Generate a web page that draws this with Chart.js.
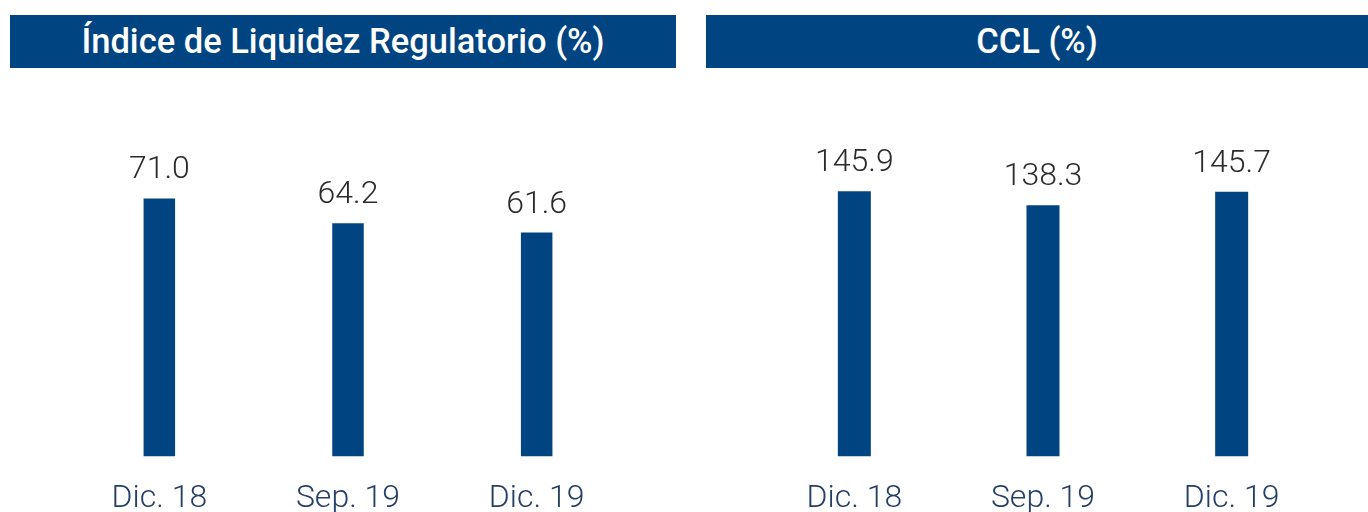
<!DOCTYPE html>
<html>
<head>
<meta charset="utf-8">
<script src="https://cdn.jsdelivr.net/npm/chart.js@4/dist/chart.umd.min.js"></script>
<style>
  html, body { margin: 0; padding: 0; background: #fff; }
  body { width: 1368px; height: 512px; overflow: hidden; position: relative; }
  .header {
    position: absolute; top: 15px; height: 53px; background: #004481; color: #fff;
    font-family: Roboto, sans-serif; font-weight: 500; font-size: 34.5px;
    line-height: 53px; text-align: center;
  }
  .panel { position: absolute; top: 68px; height: 473px; }
</style>
</head>
<body>
<div class="header" style="left:10px;width:666px;">Índice de Liquidez Regulatorio (%)</div>
<div class="header" style="left:706px;width:662px;">CCL (%)</div>
<div class="panel" style="left:10px;width:666px;"><canvas id="chartLiquidez"></canvas></div>
<div class="panel" style="left:706px;width:662px;"><canvas id="chartCcl"></canvas></div>

<script>
(function () {
    'use strict';

    const periodos = ["Dic. 18", "Sep. 19", "Dic. 19"];
    const liquidezValores = [71.0, 64.2, 61.6];
    const cclValores = [145.9, 138.3, 145.7];

    const AZUL = "#004481";

    // Escribe el valor encima de cada barra
    const valorEncima = {
        id: "valorEncima",
        afterDatasetsDraw(chart) {
            const ctx = chart.ctx;
            const meta = chart.getDatasetMeta(0);
            ctx.save();
            ctx.font = "300 32px Roboto";
            ctx.fillStyle = "#2b2b2b";
            ctx.textAlign = "center";
            ctx.textBaseline = "alphabetic";
            meta.data.forEach((bar, i) => {
                const v = chart.data.datasets[0].data[i];
                ctx.fillText(v.toFixed(1), bar.x, bar.y - 20);
            });
            ctx.restore();
        }
    };

    function drawBarChart(id, valores, maxY, barPct, padding) {
        const el = document.getElementById(id);
        return new Chart(el, {
            type: "bar",
            data: {
                labels: periodos,
                datasets: [{
                    data: valores,
                    backgroundColor: AZUL,
                    borderWidth: 0,
                    categoryPercentage: 1,
                    barPercentage: barPct
                }]
            },
            options: {
                responsive: true,
                maintainAspectRatio: false,
                animation: false,
                layout: { padding: padding },
                plugins: { legend: { display: false }, tooltip: { enabled: false } },
                scales: {
                    x: {
                        grid: { display: false, drawTicks: false },
                        border: { display: false },
                        ticks: {
                            color: "#243f63",
                            padding: 23,
                            font: { family: "Roboto", weight: 300, size: 32 }
                        }
                    },
                    y: { display: false, min: 0, max: maxY }
                }
            },
            plugins: [valorEncima]
        });
    }

    drawBarChart("chartLiquidez", liquidezValores, 100, 0.167, { top: 25, left: 55, right: 45, bottom: 0 });
    drawBarChart("chartCcl", cclValores, 200, 0.175, { top: 25, left: 54, right: 42, bottom: 0 });
})();
</script>
</body>
</html>
